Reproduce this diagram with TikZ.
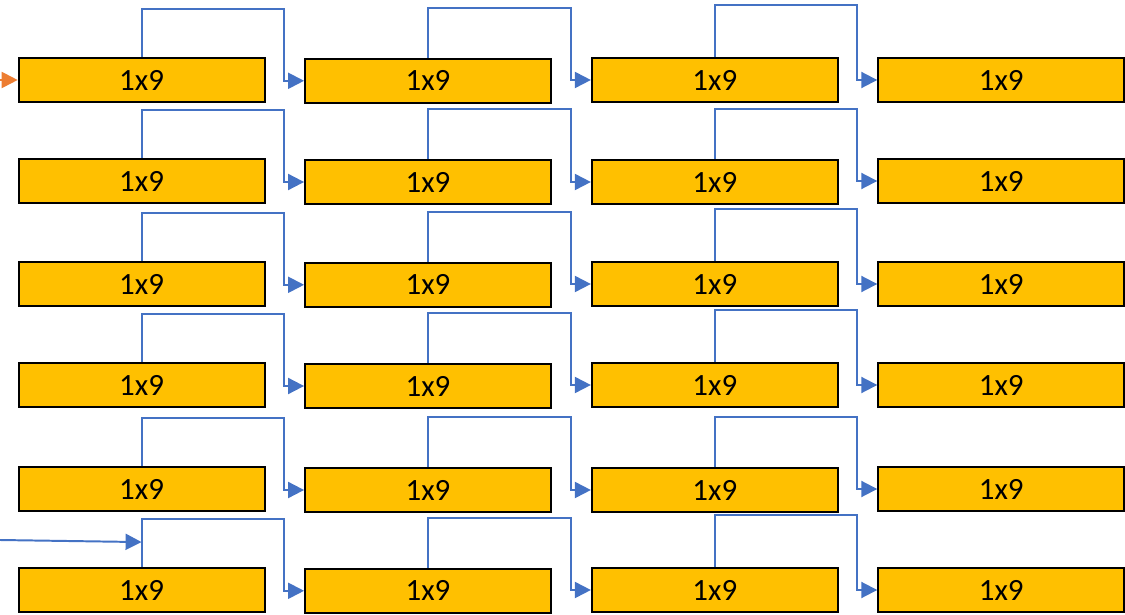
\documentclass[tikz,border=0pt]{standalone}
\usepackage{fontspec}
\setmainfont{Carlito}
\usepackage{tikz}
\usetikzlibrary{positioning,arrows.meta}
\usepackage{xcolor}
\definecolor{boxfill}{HTML}{FFC000}
\definecolor{linkblue}{HTML}{4472C4}
\definecolor{inorange}{HTML}{ED7D31}

\begin{document}
\begin{tikzpicture}[
  unit/.style={draw=black, fill=boxfill, line width=1.3pt, minimum width=6.15cm, minimum height=1.1cm, inner sep=0pt, font=\fontsize{22}{26}\selectfont},
  link/.style={-{Triangle[length=4mm, width=4mm]}, draw=linkblue, line width=1.4pt, linkblue},
  feed/.style={-{Triangle[length=4mm, width=4mm]}, draw=inorange, line width=1.4pt, inorange},
]
\useasboundingbox (0,0) rectangle (28.125,15.35);

% Row 1
\node[unit] (r1c1) at (3.54,13.35) {1x9};
\node[unit] (r1c2) at (10.7,13.33) {1x9};
\node[unit] (r1c3) at (17.87,13.35) {1x9};
\node[unit] (r1c4) at (25.03,13.35) {1x9};

% Row 2
\node[unit] (r2c1) at (3.54,10.825) {1x9};
\node[unit] (r2c2) at (10.7,10.8) {1x9};
\node[unit] (r2c3) at (17.87,10.8) {1x9};
\node[unit] (r2c4) at (25.03,10.825) {1x9};

% Row 3
\node[unit] (r3c1) at (3.54,8.25) {1x9};
\node[unit] (r3c2) at (10.7,8.23) {1x9};
\node[unit] (r3c3) at (17.87,8.25) {1x9};
\node[unit] (r3c4) at (25.03,8.25) {1x9};

% Row 4
\node[unit] (r4c1) at (3.54,5.725) {1x9};
\node[unit] (r4c2) at (10.7,5.7) {1x9};
\node[unit] (r4c3) at (17.87,5.725) {1x9};
\node[unit] (r4c4) at (25.03,5.725) {1x9};

% Row 5
\node[unit] (r5c1) at (3.54,3.125) {1x9};
\node[unit] (r5c2) at (10.7,3.1) {1x9};
\node[unit] (r5c3) at (17.87,3.1) {1x9};
\node[unit] (r5c4) at (25.03,3.125) {1x9};

% Row 6
\node[unit] (r6c1) at (3.54,0.6) {1x9};
\node[unit] (r6c2) at (10.7,0.58) {1x9};
\node[unit] (r6c3) at (17.87,0.6) {1x9};
\node[unit] (r6c4) at (25.03,0.6) {1x9};

% Inputs
\coordinate (in1) at (0,13.35);
\coordinate (in2) at (0,1.85);
\draw[feed] (in1) -- (r1c1.west);
\draw[link] (in2) -- ([yshift=0.625cm]r6c1.north);

% Skip links, row 1
\draw[link] (r1c1.north) -- ++(0,1.2) -| ([xshift=-0.5cm]r1c2.west) -- (r1c2.west);
\draw[link] (r1c2.north) -- ++(0,1.25) -| ([xshift=-0.5cm]r1c3.west) -- (r1c3.west);
\draw[link] (r1c3.north) -- ++(0,1.3) -| ([xshift=-0.5cm]r1c4.west) -- (r1c4.west);

% Skip links, row 2
\draw[link] (r2c1.north) -- ++(0,1.2) -| ([xshift=-0.5cm]r2c2.west) -- (r2c2.west);
\draw[link] (r2c2.north) -- ++(0,1.25) -| ([xshift=-0.5cm]r2c3.west) -- (r2c3.west);
\draw[link] (r2c3.north) -- ++(0,1.25) -| ([xshift=-0.5cm]r2c4.west) -- (r2c4.west);

% Skip links, row 3
\draw[link] (r3c1.north) -- ++(0,1.2) -| ([xshift=-0.5cm]r3c2.west) -- (r3c2.west);
\draw[link] (r3c2.north) -- ++(0,1.25) -| ([xshift=-0.5cm]r3c3.west) -- (r3c3.west);
\draw[link] (r3c3.north) -- ++(0,1.3) -| ([xshift=-0.5cm]r3c4.west) -- (r3c4.west);

% Skip links, row 4
\draw[link] (r4c1.north) -- ++(0,1.2) -| ([xshift=-0.5cm]r4c2.west) -- (r4c2.west);
\draw[link] (r4c2.north) -- ++(0,1.25) -| ([xshift=-0.5cm]r4c3.west) -- (r4c3.west);
\draw[link] (r4c3.north) -- ++(0,1.3) -| ([xshift=-0.5cm]r4c4.west) -- (r4c4.west);

% Skip links, row 5
\draw[link] (r5c1.north) -- ++(0,1.2) -| ([xshift=-0.5cm]r5c2.west) -- (r5c2.west);
\draw[link] (r5c2.north) -- ++(0,1.25) -| ([xshift=-0.5cm]r5c3.west) -- (r5c3.west);
\draw[link] (r5c3.north) -- ++(0,1.25) -| ([xshift=-0.5cm]r5c4.west) -- (r5c4.west);

% Skip links, row 6
\draw[link] (r6c1.north) -- ++(0,1.2) -| ([xshift=-0.5cm]r6c2.west) -- (r6c2.west);
\draw[link] (r6c2.north) -- ++(0,1.25) -| ([xshift=-0.5cm]r6c3.west) -- (r6c3.west);
\draw[link] (r6c3.north) -- ++(0,1.3) -| ([xshift=-0.5cm]r6c4.west) -- (r6c4.west);

\end{tikzpicture}
\end{document}
